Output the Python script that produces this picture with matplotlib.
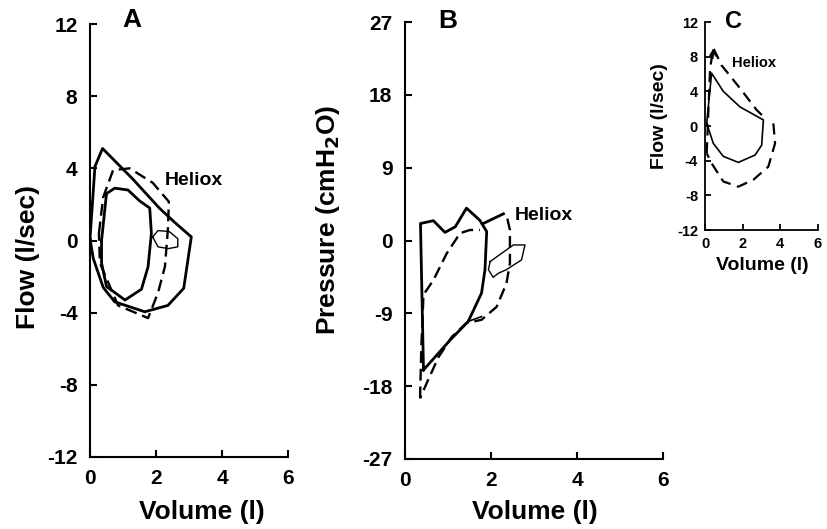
import numpy as np
import matplotlib
matplotlib.use('Agg')
import matplotlib.pyplot as plt

plt.rcParams['font.family'] = ['Liberation Sans', 'DejaVu Sans']
plt.rcParams['font.weight'] = 'bold'
plt.rcParams['axes.unicode_minus'] = False

# ---- tick values ----
vol_ticks = [0, 2, 4, 6]
flow_ticks = [-12, -8, -4, 0, 4, 8, 12]
pres_ticks = [-27, -18, -9, 0, 9, 18, 27]

# ---- panel A: flow-volume loops ----
a_air_x = [0.0, 0.15, 0.38, 1.3, 2.1, 2.57, 3.07, 2.84, 2.36, 1.66, 0.75, 0.4, 0.1, 0.0]
a_air_y = [0.1, 4.1, 5.1, 3.4, 1.8, 1.0, 0.2, -2.65, -3.6, -3.95, -3.4, -2.6, -1.0, 0.1]
a_in_x = [0.35, 0.5, 0.75, 1.15, 1.5, 1.81, 1.86, 1.76, 1.56, 1.06, 0.5, 0.35, 0.35]
a_in_y = [0.0, 2.6, 2.9, 2.8, 2.2, 1.8, 0.4, -1.45, -2.7, -3.3, -2.55, -1.25, 0.0]
a_small_x = [1.9, 2.06, 2.4, 2.66, 2.66, 2.37, 2.06, 1.9]
a_small_y = [0.2, 0.55, 0.5, 0.1, -0.35, -0.45, -0.35, 0.2]
a_hel_x = [0.27, 0.4, 0.7, 1.2, 1.9, 2.39, 2.36, 2.27, 2.06, 1.76, 0.85, 0.3, 0.27]
a_hel_y = [0.4, 2.4, 3.9, 4.0, 3.2, 2.15, 0.6, -1.45, -2.9, -4.3, -3.6, -1.25, 0.4]

# ---- panel B: pressure-volume loops ----
b_air_x = [0.43, 0.36, 0.66, 0.93, 1.17, 1.43, 1.74, 1.9, 1.86, 1.78, 1.47, 1.05, 0.43]
b_air_y = [-16.0, 2.1, 2.45, 1.0, 1.7, 4.0, 2.5, 1.1, -3.6, -6.5, -10.0, -12.3, -16.0]
b_seg_x = [1.82, 2.29]
b_seg_y = [2.1, 3.3]
b_tail_x = [1.47, 1.78]
b_tail_y = [-10.0, -9.4]
b_small_x = [1.98, 2.52, 2.79, 2.71, 2.36, 2.17, 2.05, 1.94, 1.98]
b_small_y = [-2.6, -0.55, -0.55, -2.4, -3.6, -4.05, -4.55, -3.6, -2.6]
b_hel1_x = [0.35, 0.38, 0.43, 0.66, 0.97, 1.28, 1.51, 1.74]
b_hel1_y = [-19.5, -13.1, -6.7, -4.9, -1.6, 0.9, 1.3, 1.3]
b_hel2_x = [2.38, 2.44, 2.44, 2.36, 2.13, 1.78, 1.43, 1.09, 0.78, 0.54, 0.35]
b_hel2_y = [2.7, 1.3, -2.8, -5.3, -8.2, -9.8, -10.2, -11.9, -14.4, -17.2, -19.5]

# ---- panel C: flow-volume loops ----
c_air_x = [0.09, 0.35, 0.97, 1.86, 3.1, 3.01, 2.66, 1.77, 0.97, 0.44, 0.09]
c_air_y = [0.3, 6.1, 4.0, 2.2, 0.7, -2.2, -3.35, -4.2, -3.5, -2.0, 0.3]
c_hel1_x = [0.09, 0.27, 0.44, 0.88, 1.86, 2.74, 3.1]
c_hel1_y = [-3.15, 6.65, 9.0, 7.0, 4.35, 1.85, 1.1]
c_hel2_x = [3.63, 3.72, 3.36, 2.57, 1.77, 0.97, 0.35, 0.09]
c_hel2_y = [0.3, -2.0, -4.7, -6.2, -7.0, -6.4, -4.3, -3.15]

W, H = 827, 529
fig = plt.figure(figsize=(W / 100, H / 100), dpi=100)


def px_axes(l, r, t, b):
    return fig.add_axes([l / W, 1 - b / H, (r - l) / W, (b - t) / H])


def style(ax, yt, ylim, fs, lw=1.5, tl=5, pad=9):
    ax.set_xlim(0, 6)
    ax.set_ylim(*ylim)
    ax.set_xticks(vol_ticks, [str(t) for t in vol_ticks], fontweight='bold', fontsize=fs)
    ax.set_yticks(yt, [str(t) for t in yt], fontweight='bold', fontsize=fs)
    for s in ['top', 'right']:
        ax.spines[s].set_visible(False)
    for s in ['left', 'bottom']:
        ax.spines[s].set_linewidth(lw)
    ax.tick_params(direction='in', width=lw, length=tl, pad=pad)


dash = (0, (5, 2.5))

# A
axA = px_axes(90, 288, 24, 457)
axA.plot(a_air_x, a_air_y, color='black', lw=2.0)
axA.plot(a_in_x, a_in_y, color='black', lw=2.0)
axA.plot(a_small_x, a_small_y, color='black', lw=1.0)
axA.plot(a_hel_x, a_hel_y, color='black', lw=1.7, ls=dash)
style(axA, flow_ticks, (-12, 12), 15)
axA.text(1.27, 12.2, 'A', fontsize=19, fontweight='bold', ha='center', va='center', clip_on=False)
axA.text(2.27, 3.3, 'Heliox', fontsize=14, fontweight='bold', ha='left', va='center')

# B
axB = px_axes(405, 663, 22, 459)
axB.plot(b_air_x, b_air_y, color='black', lw=2.0)
axB.plot(b_seg_x, b_seg_y, color='black', lw=2.0)
axB.plot(b_tail_x, b_tail_y, color='black', lw=1.2)
axB.plot(b_small_x, b_small_y, color='black', lw=1.0)
axB.plot(b_hel1_x, b_hel1_y, color='black', lw=1.7, ls=dash)
axB.plot(b_hel2_x, b_hel2_y, color='black', lw=1.7, ls=dash)
style(axB, pres_ticks, (-27, 27), 15)
axB.text(1.0, 27.1, 'B', fontsize=19, fontweight='bold', ha='center', va='center', clip_on=False)
axB.text(2.56, 3.15, 'Heliox', fontsize=14, fontweight='bold', ha='left', va='center')

# C
axC = px_axes(705, 818, 22, 230)
axC.plot(c_air_x, c_air_y, color='black', lw=1.2)
axC.plot(c_hel1_x, c_hel1_y, color='black', lw=1.6, ls=(0, (5, 3)))
axC.plot(c_hel2_x, c_hel2_y, color='black', lw=1.6, ls=(0, (5, 3)))
axC.annotate('', xy=(0.46, 9.3), xytext=(0.4, 7.5),
             arrowprops=dict(arrowstyle='->', color='black', lw=1.2))
style(axC, flow_ticks, (-12, 12), 10.5, lw=1.3, tl=4, pad=5)
axC.text(1.49, 12.05, 'C', fontsize=17, fontweight='bold', ha='center', va='center', clip_on=False)
axC.text(1.43, 7.3, 'Heliox', fontsize=10.5, fontweight='bold', ha='left', va='center')

# axis labels
fig.text(28 / W, 1 - 257 / H, 'Flow (l/sec)', rotation=90, fontsize=19, fontweight='bold',
         ha='center', va='center')
fig.text(202 / W, 1 - 512 / H, 'Volume (l)', fontsize=19, fontweight='bold', ha='center', va='center')
fig.text(328 / W, 1 - 220 / H, 'Pressure (cmH$_\\mathbf{2}$O)', rotation=90, fontsize=19,
         fontweight='bold', ha='center', va='center')
fig.text(535 / W, 1 - 512 / H, 'Volume (l)', fontsize=19, fontweight='bold', ha='center', va='center')
fig.text(660 / W, 1 - 116 / H, 'Flow (l/sec)', rotation=90, fontsize=14, fontweight='bold',
         ha='center', va='center')
fig.text(762 / W, 1 - 266 / H, 'Volume (l)', fontsize=14, fontweight='bold', ha='center', va='center')

fig.savefig('out.png', dpi=100)
